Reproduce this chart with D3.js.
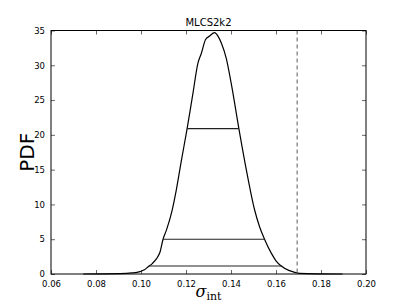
<!DOCTYPE html>
<html><head><meta charset="utf-8">
<script src="https://cdn.jsdelivr.net/npm/d3@7"></script>
<style>body{margin:0;background:#fff;}svg{display:block;}</style>
</head><body>
<script>
const title = "MLCS2k2";
const sigma = [0.0743,0.0906,0.0960,0.0995,0.1015,0.1032,0.1050,0.1069,0.1085,0.1098,0.1113,0.1135,0.1157,0.1180,0.1205,0.1231,0.1253,0.1268,0.1287,0.1305,0.1327,0.1342,0.1357,0.1379,0.1401,0.1435,0.1468,0.1505,0.1527,0.1549,0.1579,0.1600,0.1623,0.1660,0.1704,0.1780,0.1896];
const pdf   = [0,0.05,0.15,0.34,0.6,1.05,1.5,2.2,3.2,5.0,6.3,8.7,12.1,16.4,20.9,26.0,30.3,31.7,33.7,34.2,34.7,34.2,33.2,31.0,27.4,20.9,15.0,9.2,6.8,5.0,3.0,1.9,1.15,0.48,0.1,0.02,0];
const levelY  = [20.9, 5.0, 1.15];
const levelX0 = [0.1205, 0.1098, 0.1035];
const levelX1 = [0.1435, 0.1549, 0.1628];
const limitX = 0.1694;
const xTicks = [0.06,0.08,0.10,0.12,0.14,0.16,0.18,0.20];
const yTicks = [0,5,10,15,20,25,30,35];

const W=407,H=305, L=51, R=366, T=30.5, B=274;
const svg=d3.select("body").append("svg").attr("width",W).attr("height",H);
const x=d3.scaleLinear().domain([0.06,0.20]).range([L,R]);
const y=d3.scaleLinear().domain([0,35]).range([B,T]);
const font="DejaVu Sans";

// curve
svg.append("path").datum(sigma.map((s,i)=>[s,pdf[i]]))
  .attr("d",d3.line().curve(d3.curveMonotoneX).x(d=>x(d[0])).y(d=>y(d[1])))
  .attr("fill","none").attr("stroke","#000").attr("stroke-width",1.2);
// levels
levelY.forEach((v,i)=>{
  svg.append("line").attr("x1",x(levelX0[i])).attr("x2",x(levelX1[i]))
    .attr("y1",y(v)).attr("y2",y(v)).attr("stroke","#222").attr("stroke-width",1.1);
});
// dashed limit
svg.append("line").attr("x1",x(limitX)).attr("x2",x(limitX)).attr("y1",T).attr("y2",B)
  .attr("stroke","#777").attr("stroke-width",1.2).attr("stroke-dasharray","4,3");

// axes (ticks inside)
const fmtX=d3.format(".2f");
const ax=[
  {g:d3.axisBottom(x).tickValues(xTicks).tickFormat(fmtX),t:`translate(0,${B})`,lab:true},
  {g:d3.axisTop(x).tickValues(xTicks).tickFormat(""),t:`translate(0,${T})`},
  {g:d3.axisLeft(y).tickValues(yTicks).tickFormat(d3.format("d")),t:`translate(${L},0)`,lab:true},
  {g:d3.axisRight(y).tickValues(yTicks).tickFormat(""),t:`translate(${R},0)`}
];
ax.forEach((a,k)=>{
  const g=svg.append("g").attr("transform",a.t).call(a.g.tickSizeInner(-4).tickSizeOuter(0).tickPadding(k==0?7:6));
  g.select(".domain").remove();
  g.selectAll(".tick line").attr("stroke","#000").attr("stroke-width",0.6);
  g.selectAll("text").attr("font-family",font).attr("font-size",8.5).attr("fill","#000");
});
svg.append("rect").attr("x",L).attr("y",T).attr("width",R-L).attr("height",B-T)
  .attr("fill","none").attr("stroke","#000").attr("stroke-width",1);

svg.append("text").attr("x",(L+R)/2).attr("y",T-5).attr("text-anchor","middle")
  .attr("font-family",font).attr("font-size",10).text(title);
svg.append("text").attr("transform",`translate(34,${(T+B)/2}) rotate(-90)`).attr("text-anchor","middle")
  .attr("font-family",font).attr("font-size",20).text("PDF");
const xl=svg.append("text").attr("x",(L+R)/2).attr("y",297).attr("text-anchor","middle")
  .attr("font-family","DejaVu Serif").attr("font-size",16);
xl.append("tspan").attr("font-style","italic").text("σ");
xl.append("tspan").attr("dy",3).attr("font-size",11).text("int");
</script>
</body></html>
